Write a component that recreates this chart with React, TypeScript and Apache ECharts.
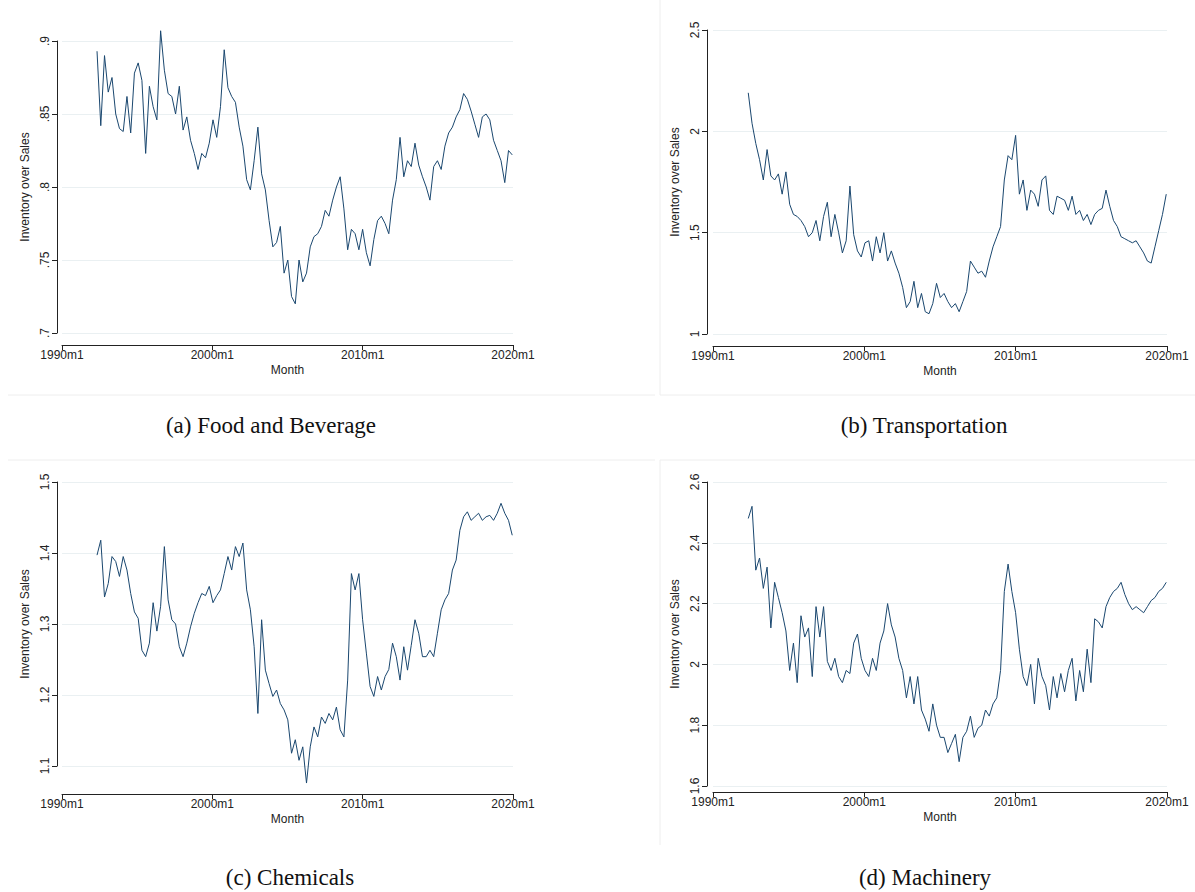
import React, { useEffect, useRef } from "react";
import * as echarts from "echarts";

const START = 1992.33;
const END = 2019.95;
const xTickLabels = ["1990m1", "2000m1", "2010m1", "2020m1"];

const food = [
  .893,.842,.89,.865, .875,.85,.84,.838, .862,.837,.878,.885, .873,.823,.869,.855,
  .846,.907,.88,.864, .862,.85,.869,.839, .848,.832,.823,.812, .823,.82,.83,.846,
  .834,.855,.894,.868, .862,.858,.841,.828, .805,.798,.818,.841, .809,.798,.777,.759,
  .762,.773,.741,.75, .725,.72,.75,.735, .741,.759,.766,.768, .773,.784,.78,.791,
  .80,.807,.785,.757, .771,.768,.757,.771, .755,.746,.764,.777, .78,.775,.768,.791,
  .805,.834,.807,.818, .814,.83,.815,.807, .80,.791,.814,.818, .812,.828,.837,.841,
  .848,.853,.864,.860, .852,.843,.834,.848, .850,.846,.832,.825, .818,.803,.825,.822,
];
const transport = [
  2.19,2.04,1.94,1.86, 1.76,1.91,1.78,1.76, 1.79,1.69,1.80,1.64, 1.59,1.58,1.56,1.53,
  1.48,1.50,1.56,1.46, 1.58,1.65,1.48,1.59, 1.50,1.40,1.46,1.73, 1.49,1.41,1.38,1.45,
  1.46,1.36,1.48,1.40, 1.50,1.36,1.41,1.35, 1.30,1.23,1.13,1.16, 1.26,1.13,1.20,1.11,
  1.10,1.15,1.25,1.18, 1.20,1.16,1.13,1.15, 1.11,1.16,1.21,1.36, 1.33,1.30,1.31,1.28,
  1.36,1.43,1.48,1.53, 1.76,1.88,1.86,1.98, 1.69,1.76,1.61,1.71, 1.69,1.63,1.76,1.78,
  1.61,1.59,1.68,1.67, 1.66,1.61,1.68,1.59, 1.61,1.56,1.59,1.54, 1.59,1.61,1.62,1.71,
  1.63,1.56,1.53,1.48, 1.47,1.46,1.45,1.46, 1.43,1.40,1.36,1.35, 1.43,1.51,1.59,1.69,
];
const chem = [
  1.397,1.418,1.338,1.357, 1.395,1.388,1.367,1.395, 1.376,1.343,1.317,1.308, 1.263,1.254,1.273,1.33,
  1.29,1.325,1.409,1.334, 1.306,1.30,1.268,1.254, 1.273,1.296,1.315,1.33, 1.343,1.34,1.353,1.33,
  1.34,1.348,1.371,1.395, 1.376,1.409,1.395,1.414, 1.348,1.32,1.268,1.174, 1.306,1.235,1.216,1.198,
  1.207,1.188,1.179,1.165, 1.118,1.137,1.108,1.127, 1.076,1.127,1.155,1.141, 1.169,1.16,1.174,1.165,
  1.183,1.151,1.141,1.221, 1.371,1.348,1.371,1.306, 1.259,1.212,1.198,1.226, 1.207,1.226,1.236,1.273,
  1.254,1.221,1.268,1.235, 1.27,1.306,1.287,1.254, 1.254,1.263,1.254,1.287, 1.32,1.334,1.343,1.376,
  1.39,1.432,1.451,1.458, 1.446,1.451,1.456,1.446, 1.451,1.453,1.446,1.456, 1.47,1.456,1.446,1.425,
];
const mach = [
  2.48,2.52,2.31,2.35, 2.25,2.32,2.12,2.27, 2.22,2.17,2.11,1.98, 2.07,1.94,2.16,2.09,
  2.12,1.96,2.19,2.09, 2.19,2.01,1.98,2.02, 1.96,1.94,1.98,1.97, 2.07,2.10,2.02,1.98,
  1.96,2.02,1.98,2.07, 2.11,2.20,2.13,2.09, 2.02,1.98,1.89,1.96, 1.87,1.96,1.85,1.82,
  1.78,1.87,1.80,1.76, 1.76,1.71,1.74,1.77, 1.68,1.76,1.78,1.83, 1.76,1.79,1.80,1.85,
  1.83,1.87,1.89,1.98, 2.24,2.33,2.24,2.17, 2.05,1.96,1.93,2.00, 1.87,2.02,1.96,1.93,
  1.85,1.96,1.89,1.97, 1.91,1.98,2.02,1.88, 1.98,1.91,2.05,1.94, 2.15,2.14,2.12,2.19,
  2.22,2.24,2.25,2.27, 2.23,2.20,2.18,2.19, 2.18,2.17,2.19,2.21, 2.22,2.24,2.25,2.27,
];

const toPairs = (arr: number[]) =>
  arr.map((v, i) => [START + (i * (END - START)) / (arr.length - 1), v]);

const fmt = (v: number) => {
  const s = String(Math.round(v * 100) / 100);
  return s.startsWith("0.") ? s.slice(1) : s;
};

export default function App() {
  const ref = useRef<HTMLDivElement>(null);
  useEffect(() => {
    document.body.style.margin = "0";
    const chart = echarts.init(ref.current!, undefined, { renderer: "svg" });
    const panels = [
      { data: food, left: 62, width: 451, top: 41, height: 292, min: 0.7, max: 0.9, interval: 0.05, xoff: 12, yoff: 5 },
      { data: transport, left: 713, width: 454, top: 30, height: 304, min: 1, max: 2.5, interval: 0.5, xoff: 12, yoff: 6 },
      { data: chem, left: 62, width: 451, top: 482, height: 284, min: 1.1, max: 1.5, interval: 0.1, xoff: 28, yoff: 5 },
      { data: mach, left: 713, width: 454, top: 482, height: 304, min: 1.6, max: 2.6, interval: 0.2, xoff: 6, yoff: 6 },
    ];
    const font = "Liberation Sans";
    const tc = "#222";
    chart.setOption({
      animation: false,
      backgroundColor: "#fff",
      grid: panels.map((p) => ({ left: p.left, top: p.top, width: p.width, height: p.height })),
      xAxis: panels.map((p, i) => ({
        type: "value", gridIndex: i, min: 1990, max: 2020, interval: 10, offset: p.xoff,
        name: "Month", nameLocation: "middle", nameGap: 19,
        nameTextStyle: { fontFamily: font, fontSize: 12, color: tc },
        axisLine: { show: true, lineStyle: { color: "#222", width: 1 } },
        axisTick: { show: true, length: 5, lineStyle: { color: "#222" } },
        axisLabel: { fontFamily: font, fontSize: 12, color: tc, margin: 4,
          formatter: (v: number) => xTickLabels[Math.round((v - 1990) / 10)] },
        splitLine: { show: false },
      })),
      yAxis: panels.map((p, i) => ({
        type: "value", gridIndex: i, min: p.min, max: p.max, interval: p.interval, offset: p.yoff,
        name: "Inventory over Sales", nameLocation: "middle", nameGap: 26,
        nameTextStyle: { fontFamily: font, fontSize: 12, color: tc },
        axisLine: { show: true, lineStyle: { color: "#222", width: 1 } },
        axisTick: { show: true, length: 5, lineStyle: { color: "#222" } },
        axisLabel: { fontFamily: font, fontSize: 12, color: tc, rotate: 90, margin: 6, formatter: fmt },
        splitLine: { show: true, lineStyle: { color: "#eaf0f2", width: 1 } },
      })),
      series: panels.map((p, i) => ({
        type: "line", xAxisIndex: i, yAxisIndex: i, data: toPairs(p.data),
        showSymbol: false, clip: false, lineStyle: { color: "#1a476f", width: 1 },
      })),
      graphic: [
        { type: "line", shape: { x1: 8, y1: 395, x2: 655, y2: 395 }, style: { stroke: "#eee" } },
        { type: "line", shape: { x1: 660, y1: 0, x2: 660, y2: 395 }, style: { stroke: "#eee" } },
        { type: "line", shape: { x1: 660, y1: 395, x2: 1195, y2: 395 }, style: { stroke: "#eee" } },
        { type: "line", shape: { x1: 8, y1: 460, x2: 655, y2: 460 }, style: { stroke: "#eee" } },
        { type: "line", shape: { x1: 660, y1: 460, x2: 660, y2: 845 }, style: { stroke: "#eee" } },
        { type: "line", shape: { x1: 660, y1: 460, x2: 1195, y2: 460 }, style: { stroke: "#eee" } },
        ...[
          { t: "(a) Food and Beverage", x: 271, y: 425 },
          { t: "(b) Transportation", x: 924, y: 425 },
          { t: "(c) Chemicals", x: 290, y: 877 },
          { t: "(d) Machinery", x: 925, y: 877 },
        ].map((c) => ({
          type: "text", x: c.x, y: c.y,
          style: { text: c.t, fontFamily: "Liberation Serif", fontSize: 23, fill: "#111", align: "center", verticalAlign: "middle" },
        })),
      ],
    });
    return () => chart.dispose();
  }, []);
  return <div ref={ref} style={{ width: 1195, height: 892 }} />;
}
